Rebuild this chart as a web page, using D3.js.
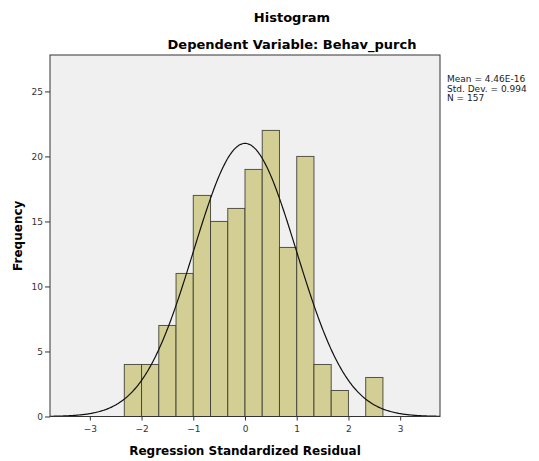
<!DOCTYPE html>
<html>
<head>
<meta charset="utf-8">
<script src="https://cdn.jsdelivr.net/npm/d3@7"></script>
<style>
body { margin: 0; background: #fff; }
text { font-family: "DejaVu Sans", sans-serif; }
</style>
</head>
<body>
<div id="chart"></div>
<script>
// bins are 1/3 wide, starting at -7/3
var binStarts = [-7, -6, -5, -4, -3, -2, -1, 0, 1, 2, 3, 4, 5, 6, 7].map(function(k) { return k / 3; });
var counts = [4, 4, 7, 11, 17, 15, 16, 19, 22, 13, 20, 4, 2, 0, 3];
var binWidth = 1 / 3;
var xTicks = [-3, -2, -1, 0, 1, 2, 3];
var yTicks = [0, 5, 10, 15, 20, 25];
var stats = { mean: 4.46e-16, sd: 0.994, n: 157 };
var statLabels = ["Mean = 4.46E-16", "Std. Dev. = 0.994", "N = 157"];

(function() {
var width = 539, height = 461;
var pLeft = 50, pRight = 440, pTop = 55, pBottom = 416.5;

var svg = d3.select("#chart").append("svg")
  .attr("width", width)
  .attr("height", height);

var x = d3.scaleLinear().domain([-3.77, 3.77]).range([pLeft, pRight]);
var y = d3.scaleLinear().domain([0, 27.8]).range([pBottom, pTop]);

svg.append("rect")
  .attr("x", pLeft).attr("y", pTop)
  .attr("width", pRight - pLeft).attr("height", pBottom - pTop)
  .attr("fill", "#f0f0f0");

var bars = binStarts.map(function(s, i) { return { x0: s, x1: s + binWidth, n: counts[i] }; })
  .filter(function(d) { return d.n > 0; });

svg.selectAll(".bar")
  .data(bars)
  .enter().append("rect")
  .attr("class", "bar")
  .attr("x", function(d) { return x(d.x0); })
  .attr("y", function(d) { return y(d.n); })
  .attr("width", function(d) { return x(d.x1) - x(d.x0); })
  .attr("height", function(d) { return y(0) - y(d.n); })
  .attr("fill", "#d3cf94")
  .attr("stroke", "#3a3a30")
  .attr("stroke-opacity", 0.85)
  .attr("stroke-width", 1);

// fitted normal curve from the stats in the legend
var curveX = d3.range(-3.77, 3.771, 0.02);
var line = d3.line()
  .x(function(v) { return x(v); })
  .y(function(v) {
    var z = (v - stats.mean) / stats.sd;
    return y(stats.n * binWidth * Math.exp(-0.5 * z * z) / (stats.sd * Math.sqrt(2 * Math.PI)));
  })
  .curve(d3.curveBasis);

svg.append("path")
  .datum(curveX)
  .attr("d", line)
  .attr("fill", "none")
  .attr("stroke", "#111")
  .attr("stroke-width", 1.2);

svg.append("rect")
  .attr("x", pLeft).attr("y", pTop)
  .attr("width", pRight - pLeft).attr("height", pBottom - pTop)
  .attr("fill", "none")
  .attr("stroke", "#333")
  .attr("stroke-width", 1);

var yAxis = svg.append("g")
  .attr("transform", "translate(" + pLeft + ",0)")
  .call(d3.axisLeft(y).tickValues(yTicks).tickSize(5).tickSizeOuter(0).tickPadding(2));
var xAxis = svg.append("g")
  .attr("transform", "translate(0," + pBottom + ")")
  .call(d3.axisBottom(x).tickValues(xTicks).tickSize(4).tickSizeOuter(0).tickPadding(5)
    .tickFormat(function(d) { return d < 0 ? "\u2212" + Math.abs(d) : d; }));

[xAxis, yAxis].forEach(function(g) {
  g.select(".domain").remove();
  g.selectAll("line").attr("stroke", "#333");
  g.selectAll("text").attr("fill", "#333").style("font-size", "9px");
});

svg.append("text")
  .attr("x", 292).attr("y", 22)
  .attr("text-anchor", "middle")
  .style("font-size", "13px").style("font-weight", "bold")
  .text("Histogram");
svg.append("text")
  .attr("x", 292).attr("y", 49)
  .attr("text-anchor", "middle")
  .style("font-size", "13px").style("font-weight", "bold")
  .text("Dependent Variable: Behav_purch");

svg.append("text")
  .attr("x", (pLeft + pRight) / 2).attr("y", 455)
  .attr("text-anchor", "middle")
  .style("font-size", "12px").style("font-weight", "bold")
  .text("Regression Standardized Residual");

svg.append("text")
  .attr("transform", "translate(22," + ((pTop + pBottom) / 2) + ") rotate(-90)")
  .attr("text-anchor", "middle")
  .style("font-size", "12px").style("font-weight", "bold")
  .text("Frequency");

svg.selectAll(".stat")
  .data(statLabels)
  .enter().append("text")
  .attr("class", "stat")
  .attr("x", 447)
  .attr("y", function(d, i) { return 82 + i * 9.5; })
  .style("font-size", "9px")
  .attr("fill", "#222")
  .text(function(d) { return d; });
})();
</script>
</body>
</html>
